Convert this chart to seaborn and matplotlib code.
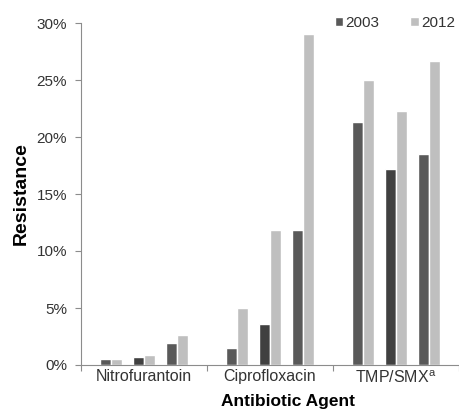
import pandas as pd
import matplotlib.pyplot as plt
import matplotlib.ticker as mticker
import seaborn as sns

# values (percent resistance), three bar pairs per agent
agents = ["Nitrofurantoin", "Ciprofloxacin", "TMP/SMX$^\\mathregular{a}$"]
years = ["2003", "2012"]
nitro_2003 = [0.5, 0.7, 1.9]
nitro_2012 = [0.5, 0.9, 2.6]
cipro_2003 = [1.5, 3.6, 11.8]
cipro_2012 = [5.0, 11.8, 29.0]
tmp_2003 = [21.3, 17.2, 18.5]
tmp_2012 = [25.0, 22.3, 26.7]

series = {
    "2003": [nitro_2003, cipro_2003, tmp_2003],
    "2012": [nitro_2012, cipro_2012, tmp_2012],
}

group_step = 3.8
rows = []
for year in years:
    for g, vals in enumerate(series[year]):
        for s, v in enumerate(vals):
            rows.append({"pos": g * group_step + s, "group": g, "sub": s,
                         "year": year, "value": v / 100})
data = pd.DataFrame(rows)

sns.set_style("white")
plt.rcParams["font.family"] = ["Liberation Sans", "DejaVu Sans"]
text_col = "#333333"
spine_col = "#8c8c8c"

fig = plt.figure(figsize=(4.6, 4.12), dpi=100)
ax = fig.add_axes([81 / 460, 1 - 365 / 412, 378 / 460, 342 / 412])

sns.barplot(data=data, x="pos", y="value", hue="year", native_scale=True,
            orient="x", palette=["#595959", "#bfbfbf"], width=0.68,
            errorbar=None, saturation=1, ax=ax)

# middle 2003 bar of each group is a shade darker
for bar, (_, r) in zip(ax.containers[0], data[data["year"] == "2003"].iterrows()):
    if r["sub"] == 1:
        bar.set_facecolor("#404040")

ax.set_ylim(0, 0.30)
ax.set_yticks([0, 0.05, 0.10, 0.15, 0.20, 0.25, 0.30])
ax.yaxis.set_major_formatter(mticker.PercentFormatter(1.0, decimals=0))

lo = -0.9
hi = 2 * group_step + 2 + 0.9
ax.set_xlim(lo, hi)
bounds = [lo, 2 + 0.9, group_step + 2 + 0.9, hi]
centers = [g * group_step + 1 for g in range(3)]
ax.set_xticks(bounds)
ax.set_xticklabels([])
ax.set_xticks(centers, minor=True)
ax.set_xticklabels(agents, minor=True)
ax.tick_params(axis="x", which="major", direction="out", length=4, width=0.8,
               color=spine_col, bottom=True)
ax.tick_params(axis="x", which="minor", length=0, pad=3, labelsize=11.5,
               labelcolor=text_col)
ax.tick_params(axis="y", direction="out", length=4, width=0.8, color=spine_col,
               left=True, pad=6, labelsize=11, labelcolor=text_col)

for side in ["top", "right"]:
    ax.spines[side].set_visible(False)
for side in ["left", "bottom"]:
    ax.spines[side].set_color(spine_col)
    ax.spines[side].set_linewidth(0.8)

ax.set_ylabel("Resistance", fontsize=14, fontweight="bold", color="black",
              labelpad=5)
ax.set_xlabel("Antibiotic Agent", fontsize=12.5, fontweight="bold",
              color="black")
ax.xaxis.set_label_coords((288 - 81) / 378, -0.085)

handles, labels = ax.get_legend_handles_labels()
ax.legend(handles, labels, ncol=2, frameon=False, loc="center right",
          bbox_to_anchor=(1.0 - 4 / 378, 1.0), handlelength=0.55,
          handleheight=0.55, handletextpad=0.15, columnspacing=2.0,
          fontsize=11, labelcolor=text_col, borderaxespad=0, borderpad=0)

fig.savefig("out.png", dpi=100)
